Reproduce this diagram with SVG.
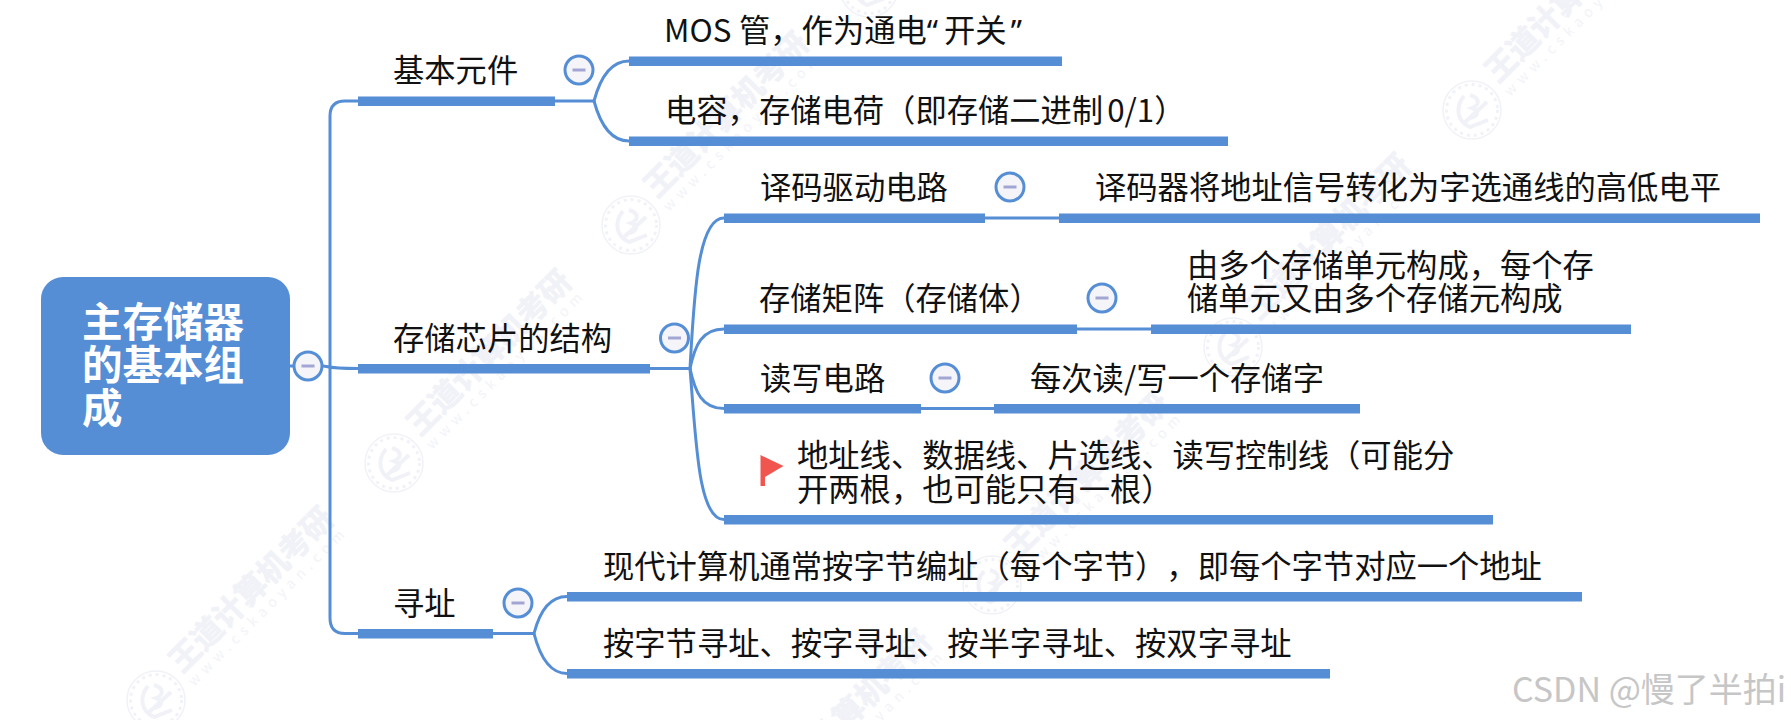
<svg xmlns="http://www.w3.org/2000/svg" width="1791" height="720" viewBox="0 0 1791 720">
<style>
text{font-family:"Noto Sans CJK SC","Noto Sans",sans-serif;text-spacing-trim:space-all;}
.t{font-size:31.3px;fill:#111;}
.q{font-family:"Noto Sans",sans-serif;}
.bar{fill:#558ed5;}
.c{fill:none;stroke:#558ed5;stroke-width:3;}
.fc{fill:#f4f4f9;stroke:#558ed5;stroke-width:3;}
.fm{fill:#a3a5d3;}
.wm{font-size:31px;font-weight:700;fill:#f1f2f8;stroke:#f1f2f8;stroke-width:.8;}
.wu{font-size:14px;fill:#f2f3f8;letter-spacing:5.6px;}
.wl{fill:none;stroke:#f1f2f8;}
</style>
<defs>
<g id="m"><circle class="fc" r="14"/><rect class="fm" x="-6.500" y="-1.500" width="13" height="3"/></g>
<g id="wmk">
<circle class="wl" r="29" stroke-width="1.500"/>
<circle class="wl" r="25.500" stroke-width="3" stroke-dasharray="3 4"/>
<path class="wl" stroke-width="4" d="M-8,-14 C-18,-2 -14,12 -2,17 L16,10 M-2,-15 C8,-12 8,-5 0,-2 C6,0 8,6 -2,8 M-9,14 L15,-8"/>
<text class="wm" transform="translate(26,-26) rotate(-45)">王道计算机考研</text>
<text class="wu" transform="translate(38,-13) rotate(-45)">www.cskaoyan.com</text>
</g>
</defs>
<rect width="1791" height="720" fill="#fff"/>
<g id="watermarks">
<use href="#wmk" x="156" y="700"/>
<use href="#wmk" x="394" y="463"/>
<use href="#wmk" x="631" y="225"/>
<use href="#wmk" x="869" y="-12"/>
<use href="#wmk" x="754" y="823"/>
<use href="#wmk" x="992" y="585"/>
<use href="#wmk" x="1233" y="347"/>
<use href="#wmk" x="1472" y="110"/>
</g>
<g id="connectors">
<path class="c" d="M290,366 H323 C328,366 326,368.500 358,368.500"/>
<path class="c" d="M358,101 H345 Q330,101 330,116 V618 Q330,633.500 345,633.500 H358"/>
<path class="c" d="M555,101 H594 C601,75 612,61 629,61"/>
<path class="c" d="M594,101 C601,127 612,141 629,141"/>
<path class="c" d="M650,368.500 H690 C694,300 697,218 724,218"/>
<path class="c" d="M690,368.500 C695,345 702,329 724,329"/>
<path class="c" d="M690,368.500 C695,392 702,408.500 724,408.500"/>
<path class="c" d="M690,368.500 C696,440 698,519.500 724,519.500"/>
<path class="c" d="M493,633.500 H534 C540,610 550,596.500 567,596.500"/>
<path class="c" d="M534,633.500 C540,657 550,673.500 567,673.500"/>
<path class="c" d="M985,218 H1059"/>
<path class="c" d="M1077,329 H1151"/>
<path class="c" d="M921,408.500 H994"/>
</g>
<g id="root">
<rect x="41" y="277" width="249" height="178" rx="22" fill="#558ed5"/>
<g font-size="40.500" font-weight="700" fill="#fff">
<text x="82" y="337">主存储器</text>
<text x="82" y="380">的基本组</text>
<text x="82" y="423">成</text>
</g>
<use href="#m" x="308" y="366"/>
</g>
<g id="n-basic"><rect class="bar" x="358" y="96.500" width="197" height="9.500"/><text class="t" x="393" y="82">基本元件</text><use href="#m" x="579" y="70"/></g>
<g id="n-mos"><rect class="bar" x="629" y="56.500" width="433" height="9.500"/><text class="t" x="664" y="42">MOS<tspan x="739">管，作为通电</tspan><tspan class="q">“</tspan><tspan dx="6">开关</tspan><tspan class="q" dx="4">”</tspan></text></g>
<g id="n-cap"><rect class="bar" x="629" y="136.500" width="599" height="9.500"/><text class="t" x="665" y="122" word-spacing="-3">电容，存储电荷（即存储二进制 0/1）</text></g>
<g id="n-chip"><rect class="bar" x="358" y="364" width="292" height="9.500"/><text class="t" x="393" y="350">存储芯片的结构</text><use href="#m" x="674.500" y="338"/></g>
<g id="n-dec"><rect class="bar" x="724" y="213.500" width="261" height="9.500"/><text class="t" x="760" y="199">译码驱动电路</text><use href="#m" x="1010" y="187"/></g>
<g id="n-dec2"><rect class="bar" x="1059" y="213.500" width="701" height="9.500"/><text class="t" x="1095" y="199">译码器将地址信号转化为字选通线的高低电平</text></g>
<g id="n-mat"><rect class="bar" x="724" y="324.500" width="353" height="9.500"/><text class="t" x="759" y="310">存储矩阵（存储体）</text><use href="#m" x="1102" y="298"/></g>
<g id="n-mat2"><rect class="bar" x="1151" y="324.500" width="480" height="9.500"/><text class="t" x="1187" y="277">由多个存储单元构成，每个存</text><text class="t" x="1187" y="310">储单元又由多个存储元构成</text></g>
<g id="n-rw"><rect class="bar" x="724" y="404" width="197" height="9.500"/><text class="t" x="760" y="390">读写电路</text><use href="#m" x="945" y="378"/></g>
<g id="n-rw2"><rect class="bar" x="994" y="404" width="366" height="9.500"/><text class="t" x="1030" y="390">每次读/写一个存储字</text></g>
<g id="n-lines"><rect class="bar" x="724" y="515" width="769" height="9.500"/>
<path d="M760.500,455 L783.500,466 L765,477 V486 H760.500 Z" fill="#f0564f"/>
<text class="t" x="797" y="467">地址线、数据线、片选线、读写控制线（可能分</text><text class="t" x="797" y="501">开两根，也可能只有一根）</text></g>
<g id="n-addr"><rect class="bar" x="358" y="629" width="135" height="9.500"/><text class="t" x="393" y="615">寻址</text><use href="#m" x="518" y="603"/></g>
<g id="n-addr1"><rect class="bar" x="567" y="592" width="1015" height="9.500"/><text class="t" x="603" y="578">现代计算机通常按字节编址（每个字节），即每个字节对应一个地址</text></g>
<g id="n-addr2"><rect class="bar" x="567" y="669" width="763" height="9.500"/><text class="t" x="603" y="655">按字节寻址、按字寻址、按半字寻址、按双字寻址</text></g>
<text x="1512" y="702" font-size="34" fill="#c6c6c6">CSDN @慢了半拍i</text>
</svg>
